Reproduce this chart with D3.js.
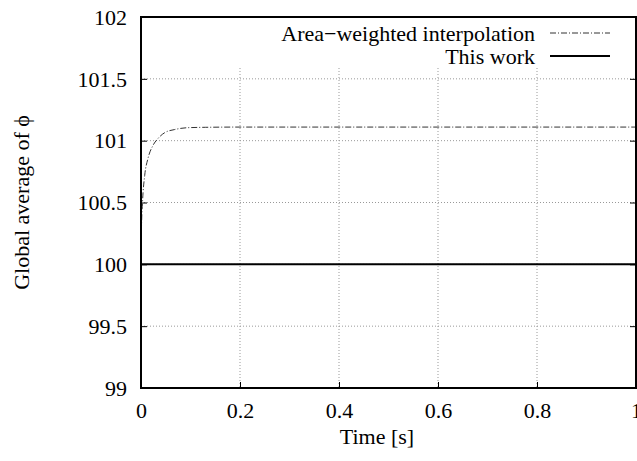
<!DOCTYPE html>
<html>
<head>
<meta charset="utf-8">
<script src="https://cdn.jsdelivr.net/npm/d3@7"></script>
<style>
body { margin: 0; background: #fff; }
svg text { font-family: "Liberation Serif", "DejaVu Serif", serif; fill: #000; }
</style>
</head>
<body>
<div id="chart-area"></div>
<script>
// values
var timeArea = [0, 0.001, 0.003, 0.0075, 0.014, 0.024, 0.034, 0.048, 0.068, 0.095, 0.13, 0.2, 0.4, 0.6, 0.8, 1.0];
var phiArea = [100, 100.3, 100.5, 100.72, 100.855, 100.96, 101.016, 101.065, 101.09, 101.105, 101.108, 101.11, 101.11, 101.11, 101.11, 101.11];
var timeThis = [0, 1.0];
var phiThis = [100, 100];
var xTicks = [0, 0.2, 0.4, 0.6, 0.8, 1];
var yTicks = [99, 99.5, 100, 100.5, 101, 101.5, 102];
var seriesNames = ["Area\u2212weighted interpolation", "This work"];

var margin = { left: 141, right: 1, top: 17, bottom: 73 };
var width = 637 - margin.left - margin.right;
var height = 461 - margin.top - margin.bottom;
var fontSize = "22px";
var fontFam = "Liberation Serif, DejaVu Serif, serif";

var svg = d3.select("#chart-area").append("svg")
    .attr("width", 637)
    .attr("height", 461);

var g = svg.append("g")
    .attr("transform", "translate(" + margin.left + ", " + margin.top + ")");

var x = d3.scaleLinear().domain([0, 1]).range([0, width]);
var y = d3.scaleLinear().domain([99, 102]).range([height, 0]);

// grid
g.selectAll(".vgrid").data(xTicks.slice(1, -1)).enter()
    .append("line")
    .attr("x1", (d) => x(d)).attr("x2", (d) => x(d))
    .attr("y1", 0).attr("y2", height)
    .attr("stroke", "#999").attr("stroke-width", 1)
    .attr("stroke-dasharray", "1,2");
g.selectAll(".hgrid").data(yTicks.slice(1, -1)).enter()
    .append("line")
    .attr("x1", 0).attr("x2", width)
    .attr("y1", (d) => y(d)).attr("y2", (d) => y(d))
    .attr("stroke", "#999").attr("stroke-width", 1)
    .attr("stroke-dasharray", "1,2");

// axes, inner ticks on all sides
var bottomAxis = d3.axisBottom(x).tickValues(xTicks).tickSize(-6)
    .tickFormat((d) => d3.format("")(d));
var gb = g.append("g").attr("transform", "translate(0," + height + ")").call(bottomAxis);
var topAxis = d3.axisTop(x).tickValues(xTicks).tickSize(-6).tickFormat("");
var gt = g.append("g").call(topAxis);
var leftAxis = d3.axisLeft(y).tickValues(yTicks).tickSize(-6)
    .tickFormat((d) => d3.format("")(d));
var gl = g.append("g").call(leftAxis);
var rightAxis = d3.axisRight(y).tickValues(yTicks).tickSize(-6).tickFormat("");
var gr = g.append("g").attr("transform", "translate(" + width + ",0)").call(rightAxis);

[gb, gt, gl, gr].forEach((a) => {
    a.attr("font-family", fontFam).attr("font-size", fontSize);
    a.select(".domain").remove();
    a.selectAll("line").attr("stroke", "#000").attr("stroke-width", 1);
});
gb.selectAll("text").attr("dy", null).attr("y", 30);
gl.selectAll("text").attr("x", -14).attr("dy", "0.33em");

// legend box (opaque)
g.append("rect")
    .attr("x", x(0.19)).attr("y", 1)
    .attr("width", width - x(0.19) - 1).attr("height", 49)
    .attr("fill", "#fff");

var line = d3.line()
    .x((d) => x(d[0]))
    .y((d) => y(d[1]))
    .curve(d3.curveMonotoneX);

g.append("path")
    .datum(d3.zip(timeArea, phiArea))
    .attr("d", line)
    .attr("fill", "none")
    .attr("stroke", "#333")
    .attr("stroke-width", 1)
    .attr("stroke-dasharray", "6,2,1,2");

g.append("path")
    .datum(d3.zip(timeThis, phiThis))
    .attr("d", line)
    .attr("fill", "none")
    .attr("stroke", "#000")
    .attr("stroke-width", 2);

// legend
var legend = g.selectAll(".legend").data(seriesNames).enter()
    .append("g")
    .attr("transform", (d, i) => "translate(0," + (16 + i * 23) + ")");
legend.append("text")
    .attr("x", 394)
    .attr("y", 8)
    .attr("text-anchor", "end")
    .style("font-size", fontSize)
    .text((d) => d);
legend.append("line")
    .attr("x1", 409).attr("x2", 469)
    .attr("y1", 0).attr("y2", 0)
    .attr("stroke", (d, i) => i === 0 ? "#333" : "#000")
    .attr("stroke-width", (d, i) => i === 0 ? 1 : 2)
    .attr("stroke-dasharray", (d, i) => i === 0 ? "6,2,1,2" : null);

// border
g.append("rect")
    .attr("x", 0).attr("y", 0)
    .attr("width", width).attr("height", height)
    .attr("fill", "none")
    .attr("stroke", "#000")
    .attr("stroke-width", 2);

// X Label
svg.append("text")
    .attr("x", 377)
    .attr("y", 444)
    .attr("text-anchor", "middle")
    .style("font-size", fontSize)
    .text("Time [s]");

// Y Label
svg.append("text")
    .attr("transform", "translate(29," + (margin.top + height / 2) + ") rotate(-90)")
    .attr("text-anchor", "middle")
    .style("font-size", fontSize)
    .text("Global average of \u03d5");
</script>
</body>
</html>
